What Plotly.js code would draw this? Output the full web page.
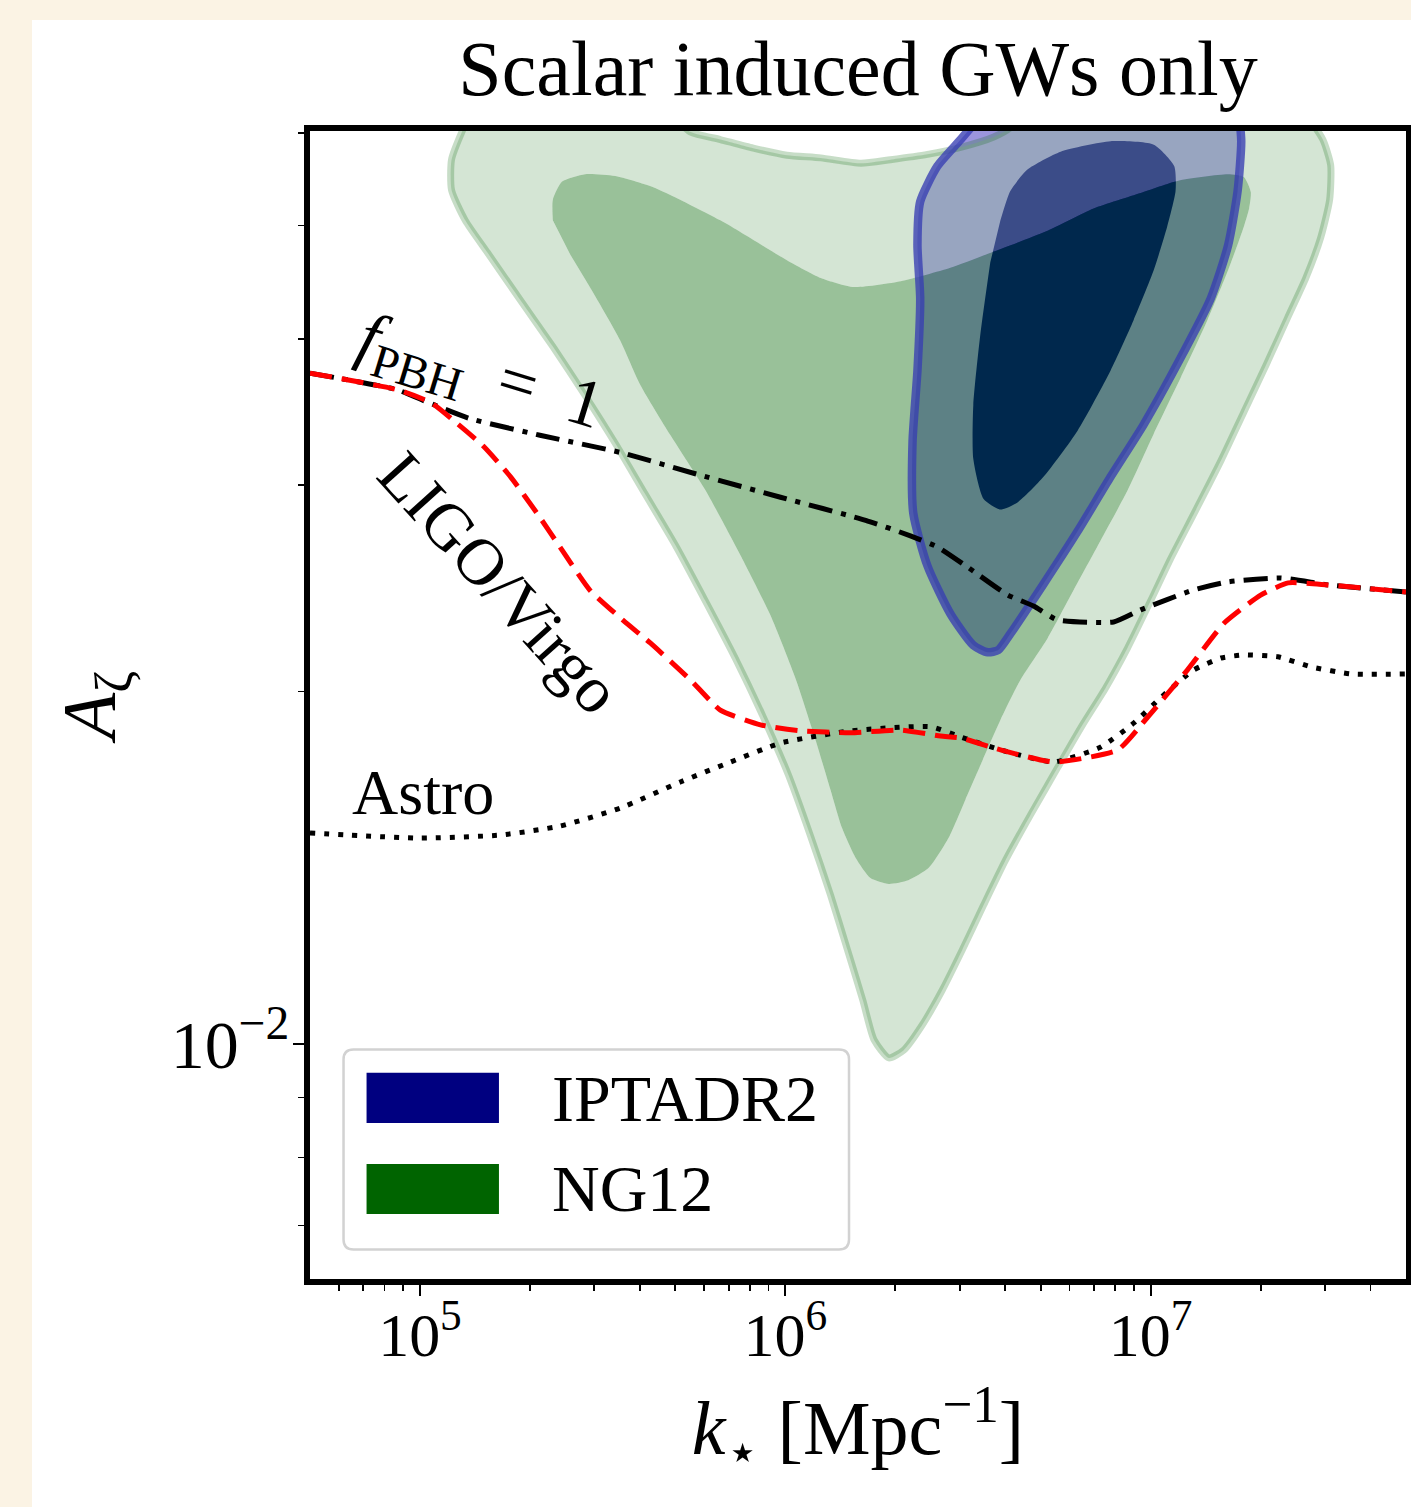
<!DOCTYPE html>
<html><head><meta charset="utf-8">
<script src="https://cdn.plot.ly/plotly-3.0.1.min.js"></script>
<style>
html,body{margin:0;padding:0;background:#fbf3e4;width:1411px;height:1507px;overflow:hidden;}
#chart{position:absolute;left:32px;top:20px;width:1379px;height:1487px;background:#ffffff;}
</style></head><body><div id="chart"></div>
<script>
// ---------------- data ----------------
// NG12 95% region (outer contour)
const ng12OuterK = [1.46e5,1.30e5,1.22e5,1.22e5,1.33e5,1.53e5,1.88e5,2.31e5,2.83e5,3.42e5,4.13e5,4.99e5,6.04e5,7.29e5,8.65e5,1.02e6,1.17e6,1.33e6,1.48e6,1.63e6,1.75e6,1.92e6,2.11e6,2.37e6,2.69e6,3.05e6,3.49e6,4.01e6,4.69e6,5.56e6,6.51e6,7.53e6,8.65e6,1.00e7,1.13e7,1.33e7,1.56e7,1.80e7,2.07e7,2.37e7,2.66e7,2.92e7,3.09e7,3.11e7,2.96e7,2.71e7,1.88e7,4.69e6,4.13e6,3.72e6,3.02e6,2.45e6,1.94e6,1.61e6,1.25e6,1.01e6,8.17e5,6.64e5,5.49e5,4.69e5,3.11e5];
const ng12OuterA = [0.0646,0.0600,0.0569,0.0536,0.0505,0.0474,0.0432,0.0394,0.0358,0.0326,0.0295,0.0267,0.0239,0.02136,0.0191,0.01697,0.01508,0.0134,0.01203,0.0109,0.01008,0.00973,0.00988,0.01038,0.01112,0.01203,0.01314,0.01436,0.01569,0.01721,0.01873,0.02014,0.02179,0.0239,0.0259,0.02858,0.03152,0.03465,0.0380,0.04169,0.0451,0.0488,0.0526,0.0563,0.0592,0.0615,0.0646,0.0640,0.0606,0.0595,0.0583,0.0575,0.0569,0.0565,0.0571,0.0574,0.0582,0.0592,0.0601,0.0627,0.0646];
// NG12 68% region (inner contour)
const ng12InnerK = [2.31e5,2.31e5,2.45e5,2.83e5,3.42e5,4.35e5,6.64e5,1.01e6,1.25e6,1.54e6,2.07e6,2.83e6,3.72e6,5.16e6,6.98e6,9.39e6,1.19e7,1.63e7,1.80e7,1.88e7,1.86e7,1.80e7,1.63e7,1.43e7,1.21e7,1.02e7,8.65e6,7.29e6,6.15e6,5.22e6,4.40e6,3.88e6,3.47e6,3.11e6,2.80e6,2.47e6,2.17e6,1.92e6,1.71e6,1.56e6,1.43e6,1.33e6,1.21e6,1.07e6,9.10e5,7.53e5,6.04e5,4.84e5,4.01e5,3.53e5,2.98e5,2.58e5];
const ng12InnerA = [0.0505,0.0526,0.0545,0.0553,0.0551,0.0539,0.0505,0.0467,0.0451,0.0443,0.0448,0.0460,0.0475,0.0494,0.0517,0.0533,0.0546,0.0553,0.0550,0.0534,0.0517,0.0499,0.0458,0.0415,0.0371,0.0332,0.0297,0.0269,0.0244,0.0222,0.02046,0.01891,0.01748,0.01616,0.0150,0.01414,0.0138,0.0137,0.01386,0.01441,0.01529,0.01648,0.01818,0.02046,0.02324,0.02616,0.02972,0.03313,0.03654,0.0399,0.0438,0.0472];
// IPTA DR2 95% region
const iptaOuterK = [3.53e6,3.02e6,2.61e6,2.34e6,2.30e6,2.34e6,2.30e6,2.23e6,2.24e6,2.45e6,2.83e6,3.27e6,3.58e6,3.83e6,4.13e6,5.09e6,6.31e6,7.77e6,9.57e6,1.19e7,1.46e7,1.63e7,1.73e7,1.77e7,1.74e7];
const iptaOuterA = [0.0627,0.0592,0.0562,0.0524,0.0481,0.0433,0.0376,0.0327,0.0284,0.0256,0.0233,0.0219,0.0216,0.0217,0.0224,0.0247,0.0274,0.0305,0.0338,0.0382,0.0433,0.0481,0.0535,0.0590,0.0627];
// IPTA DR2 68% region
const iptaInnerK = [3.88e6,4.13e6,4.60e6,5.67e6,7.77e6,1.02e7,1.16e7,1.17e7,1.11e7,1.02e7,8.98e6,7.77e6,6.31e6,5.09e6,4.32e6,3.88e6,3.49e6,3.27e6,3.27e6,3.42e6,3.64e6];
const iptaInnerA = [0.0505,0.0535,0.0558,0.0578,0.0590,0.0586,0.0562,0.0535,0.0499,0.0458,0.0415,0.0376,0.0334,0.0305,0.0290,0.0286,0.0292,0.0316,0.0351,0.0404,0.0465];
// f_PBH = 1 bound (dash-dot)
const fpbhK = [5.0e4,8.65e4,1.03e5,1.37e5,2.13e5,3.53e5,5.85e5,9.7e5,1.66e6,2.20e6,2.61e6,3.15e6,4.06e6,4.78e6,5.56e6,7.92e6,9.39e6,1.31e7,1.63e7,2.27e7,3.06e7,5.0e7];
const fpbhA = [0.0374,0.0362,0.0354,0.0342,0.0331,0.0320,0.0306,0.0293,0.0280,0.02716,0.02657,0.02555,0.02418,0.02366,0.02302,0.02293,0.02348,0.02442,0.02481,0.0250,0.02466,0.02432];
// LIGO/Virgo bound (red dashed)
const ligoK = [5.0e4,8.65e4,1.07e5,1.26e5,1.49e5,1.77e5,2.09e5,2.47e5,2.92e5,3.60e5,4.27e5,5.50e5,6.64e5,8.55e5,1.10e6,1.51e6,2.07e6,2.66e6,3.02e6,3.88e6,5.43e6,8.13e6,9.82e6,1.26e7,1.59e7,2.00e7,2.38e7,3.06e7,5.0e7];
const ligoA = [0.0374,0.0362,0.0353,0.0339,0.0324,0.0305,0.0284,0.0263,0.0244,0.0230,0.0220,0.02046,0.01928,0.01873,0.01851,0.01844,0.01854,0.01832,0.01825,0.01783,0.01741,0.01783,0.01902,0.02086,0.02288,0.02417,0.02476,0.02466,0.02432];
// Astro bound (dotted)
const astroK = [5.0e4,1.0e5,1.66e5,2.42e5,3.53e5,5.16e5,7.08e5,9.7e5,1.51e6,2.50e6,3.02e6,3.88e6,5.43e6,7.3e6,9.0e6,1.07e7,1.31e7,1.56e7,1.80e7,2.23e7,2.75e7,3.53e7,5.0e7];
const astroA = [0.01514,0.01499,0.01508,0.01535,0.01590,0.01674,0.01741,0.01807,0.01851,0.01866,0.01829,0.01783,0.01741,0.01793,0.01880,0.01978,0.02086,0.02136,0.02149,0.02141,0.02099,0.0207,0.0207];
// ticks
const xTickVals = [1e5, 1e6, 1e7];
const xTickText = ['10<sup>5</sup>', '10<sup>6</sup>', '10<sup>7</sup>'];
const xMinorVals = [6e4,7e4,8e4,9e4,2e5,3e5,4e5,5e5,6e5,7e5,8e5,9e5,2e6,3e6,4e6,5e6,6e6,7e6,8e6,9e6,2e7,3e7,4e7];
const yTickVals = [0.01];
const yTickText = ['10<sup>\u22122</sup>'];
const yMinorVals = [0.007,0.008,0.009,0.02,0.03,0.04,0.05,0.06];
const legendLabels = ['IPTADR2', 'NG12'];
const legendColors = ['#000080', '#006400'];

// ---------------- figure ----------------
const FONT = "'Liberation Serif', 'DejaVu Serif', serif";
const sp = {shape: 'spline', smoothing: 0.6};
const noLine = {color: 'rgba(0,0,0,0)', width: 0};

const traces = [
  {x: iptaOuterK, y: iptaOuterA, mode: 'lines', fill: 'toself', fillcolor: 'rgb(155,148,222)',
   line: Object.assign({}, noLine, sp), hoverinfo: 'skip', showlegend: false},
  {x: iptaInnerK, y: iptaInnerA, mode: 'lines', fill: 'toself', fillcolor: 'rgb(0,0,128)',
   line: Object.assign({}, noLine, sp), hoverinfo: 'skip', showlegend: false},
  {x: ng12OuterK.concat([null], ng12InnerK), y: ng12OuterA.concat([null], ng12InnerA), mode: 'lines',
   fill: 'toself', fillcolor: 'rgba(148,190,148,0.4)', connectgaps: false,
   line: Object.assign({}, noLine, sp), hoverinfo: 'skip', showlegend: false},
  {x: ng12InnerK, y: ng12InnerA, mode: 'lines', fill: 'toself', fillcolor: 'rgba(0,100,0,0.4)',
   line: Object.assign({}, noLine, sp), hoverinfo: 'skip', showlegend: false},
  {x: ng12OuterK.concat([ng12OuterK[0]]), y: ng12OuterA.concat([ng12OuterA[0]]), mode: 'lines',
   line: Object.assign({color: 'rgba(0,100,0,0.22)', width: 7}, sp), hoverinfo: 'skip', showlegend: false},
  {x: iptaOuterK, y: iptaOuterA, mode: 'lines',
   line: Object.assign({color: 'rgba(55,62,178,0.78)', width: 8.5}, sp), hoverinfo: 'skip', showlegend: false},
  {x: fpbhK, y: fpbhA, mode: 'lines', line: {color: 'black', width: 5, dash: '24px,9px,5px,9px', shape: 'spline', smoothing: 0.5},
   hoverinfo: 'skip', showlegend: false},
  {x: astroK, y: astroA, mode: 'lines', line: {color: 'black', width: 5, dash: '5px,9px', shape: 'spline', smoothing: 0.5},
   hoverinfo: 'skip', showlegend: false},
  {x: ligoK, y: ligoA, mode: 'lines', line: {color: 'red', width: 5, dash: '22px,10px', shape: 'spline', smoothing: 0.5},
   hoverinfo: 'skip', showlegend: false}
];

// legend box geometry (paper coordinates)
const bx0 = 0.0306, bx1 = 0.4918, by0 = 0.0256, by1 = 0.1999, rx = 0.0091, ry = 0.0087;
const boxPath = `M${bx0+rx},${by0} L${bx1-rx},${by0} Q${bx1},${by0} ${bx1},${by0+ry} L${bx1},${by1-ry} Q${bx1},${by1} ${bx1-rx},${by1} L${bx0+rx},${by1} Q${bx0},${by1} ${bx0},${by1-ry} L${bx0},${by0+ry} Q${bx0},${by0} ${bx0+rx},${by0} Z`;
const legendRows = [[0.1359, 0.1796, 0.1568], [0.0566, 0.1002, 0.0784]];

const shapes = [
  {type: 'path', xref: 'paper', yref: 'paper', path: boxPath, fillcolor: 'rgba(255,255,255,0.85)',
   line: {color: '#d2d2d2', width: 2.5}, layer: 'above'}
];
const annotations = [
  {xref: 'paper', yref: 'paper', x: 0.1551, y: 0.7875, xanchor: 'center', yanchor: 'middle',
   text: '<i>f</i><sub>PBH</sub>\u2002=\u20021', textangle: 17,
   showarrow: false, font: {family: FONT, size: 68, color: 'black'}},
  {xref: 'paper', yref: 'paper', x: 0.1734, y: 0.6071, xanchor: 'center', yanchor: 'middle',
   text: 'LIGO/Virgo', textangle: 48,
   showarrow: false, font: {family: FONT, size: 66, color: 'black'}},
  {xref: 'paper', yref: 'paper', x: 0.1031, y: 0.4242, xanchor: 'center', yanchor: 'middle',
   text: 'Astro', showarrow: false, font: {family: FONT, size: 64, color: 'black'}}
];
legendLabels.forEach((lab, i) => {
  const r = legendRows[i];
  shapes.push({type: 'rect', xref: 'paper', yref: 'paper', x0: 0.0516, x1: 0.1724, y0: r[0], y1: r[1],
    fillcolor: legendColors[i], line: {width: 0}, layer: 'above'});
  annotations.push({xref: 'paper', yref: 'paper', x: 0.219, y: r[2], xanchor: 'left', yanchor: 'middle',
    text: lab, showarrow: false, font: {family: FONT, size: 66, color: 'black'}});
});

const axisCommon = {
  type: 'log', showgrid: false, zeroline: false, showline: true, linecolor: 'black', linewidth: 6,
  mirror: true, ticks: 'outside', ticklen: 11, tickwidth: 2, tickcolor: 'black', tickmode: 'array',
  tickfont: {family: FONT, size: 62, color: 'black'}, automargin: false
};

const layout = {
  width: 1379, height: 1487,
  margin: {l: 278, r: 5, t: 111, b: 228},
  paper_bgcolor: 'white', plot_bgcolor: 'white',
  font: {family: FONT, color: 'black'},
  showlegend: false,
  title: {text: 'Scalar induced GWs only', font: {family: FONT, size: 78, color: 'black'},
          x: 0.5, xref: 'paper', xanchor: 'center', y: 0.968, yref: 'container', yanchor: 'middle'},
  xaxis: Object.assign({}, axisCommon, {
    range: [Math.log10(5e4), Math.log10(5e7)], tickvals: xTickVals, ticktext: xTickText, ticklabelstandoff: -14,
    minor: {tickmode: 'array', tickvals: xMinorVals, ticks: 'outside', ticklen: 6, tickwidth: 1.8, tickcolor: 'black', showgrid: false},
    title: {text: '<i>k</i><sub>\u22c6</sub> [Mpc<sup>\u22121</sup>]', font: {family: FONT, size: 76, color: 'black'}, standoff: 34}
  }),
  yaxis: Object.assign({}, axisCommon, {
    range: [Math.log10(0.0063), Math.log10(0.0602)], tickvals: yTickVals, ticktext: yTickText, ticklabelstandoff: -10,
    tickfont: {family: FONT, size: 68, color: 'black'},
    minor: {tickmode: 'array', tickvals: yMinorVals, ticks: 'outside', ticklen: 6, tickwidth: 1.8, tickcolor: 'black', showgrid: false},
    title: {text: '<i>A</i><sub>\u03b6</sub>', font: {family: FONT, size: 76, color: 'black'}, standoff: 32}
  }),
  shapes: shapes,
  annotations: annotations
};

Plotly.newPlot('chart', traces, layout, {staticPlot: true, displayModeBar: false}).then(function (gd) {
  gd.querySelectorAll('text').forEach(function (t) {
    if (!t.textContent.trim()) t.parentNode.removeChild(t);
  });
});
</script></body></html>
